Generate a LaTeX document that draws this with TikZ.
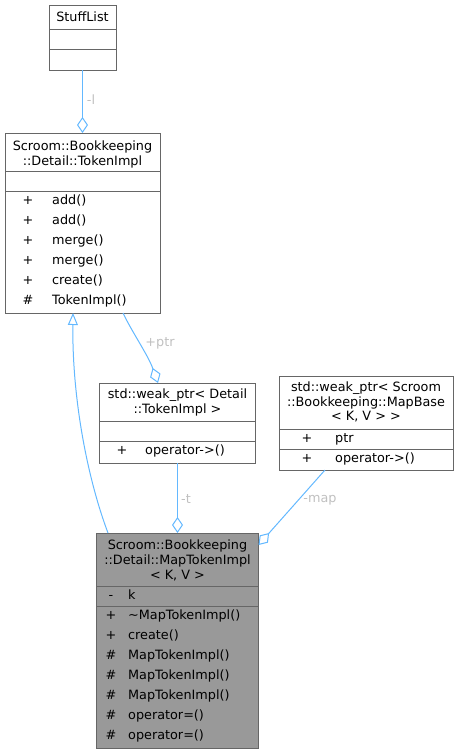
\documentclass[tikz,border=0pt]{standalone}
\usepackage{fontspec}
\setmainfont{DejaVu Sans}
\usetikzlibrary{arrows.meta,calc}
\definecolor{edgeblue}{HTML}{63B8FF}
\definecolor{boxline}{HTML}{666666}
\definecolor{boxfill}{HTML}{999999}
\definecolor{lblgray}{HTML}{C0C0C0}
\begin{document}
\begin{tikzpicture}[x=1pt,y=-1pt,
  font=\fontsize{12.8}{15}\selectfont,
  box/.style={draw=boxline, line width=1pt, fill=white, anchor=north west, inner sep=0pt, outer sep=0pt},
  sep/.style={draw=boxline, line width=1pt},
  txt/.style={inner sep=0pt, anchor=base},
  mem/.style={inner sep=0pt, anchor=base west},
  vis/.style={inner sep=0pt, anchor=base},
  agg/.style={draw=edgeblue, line width=1pt, -{Diamond[open, length=16pt, width=11pt, line width=1pt]}},
  inh/.style={draw=edgeblue, line width=1pt, -{Triangle[open, length=12pt, width=10pt, line width=1pt]}},
  lbl/.style={text=lblgray, inner sep=0pt, anchor=center}]
\useasboundingbox (0,0) rectangle (459,753);

% StuffList
\node[box, minimum width=67pt, minimum height=65pt] (stuff) at (49,5) {};
\draw[sep] (49,29) -- (116,29);
\draw[sep] (49,49) -- (116,49);
\node[txt] (stuffT) at (82.5,21) {StuffList};

% TokenImpl
\node[box, minimum width=155pt, minimum height=180pt] (ti) at (5,133) {};
\draw[sep] (5,171.5) -- (160,171.5);
\draw[sep] (5,191.5) -- (160,191.5);
\node[txt] (tiT1) at (82.5,150) {Scroom::Bookkeeping};
\node[txt] (tiT2) at (82.5,165) {::Detail::TokenImpl};
\foreach \i/\v/\m in {0/+/add(),1/+/add(),2/+/merge(),3/+/merge(),4/+/create(),5/\#/TokenImpl()}{
  \node[vis] (tiv\i) at (28,204+20*\i) {\v};
  \node[mem] (tim\i) at (52,204+20*\i) {\m};
}

% weak_ptr Detail
\node[box, minimum width=156pt, minimum height=80pt] (wd) at (99.5,383) {};
\draw[sep] (99.5,421) -- (255.5,421);
\draw[sep] (99.5,441) -- (255.5,441);
\node[txt] (wdT1) at (177.5,398) {std::weak\_ptr< Detail};
\node[txt] (wdT2) at (177.5,413) {::TokenImpl >};
\node[vis] (wdv0) at (122,454) {+};
\node[mem] (wdm0) at (145,454) {operator->()};

% weak_ptr MapBase
\node[box, minimum width=174pt, minimum height=94pt] (mb) at (279,376) {};
\draw[sep] (279,429) -- (453,429);
\draw[sep] (279,449) -- (453,449);
\node[txt] (mbT1) at (366,391.5) {std::weak\_ptr< Scroom};
\node[txt] (mbT2) at (366,406) {::Bookkeeping::MapBase};
\node[txt] (mbT3) at (366,420.5) {< K, V > >};
\node[vis] (mbv0) at (307,442) {+};
\node[mem] (mbm0) at (335,442) {ptr};
\node[vis] (mbv1) at (307,462) {+};
\node[mem] (mbm1) at (335,462) {operator->()};

% MapTokenImpl
\node[box, fill=boxfill, minimum width=162pt, minimum height=215pt] (mti) at (96.5,533) {};
\draw[sep] (96.5,586) -- (258.5,586);
\draw[sep] (96.5,606) -- (258.5,606);
\node[txt] (mtiT1) at (177.5,549) {Scroom::Bookkeeping};
\node[txt] (mtiT2) at (177.5,564) {::Detail::MapTokenImpl};
\node[txt] (mtiT3) at (177.5,579) {< K, V >};
\node[vis] (mtiav) at (111,599) {-};
\node[mem] (mtiam) at (128,599) {k};
\foreach \i/\v/\m in {0/+/\textasciitilde MapTokenImpl(),1/+/create(),2/\#/MapTokenImpl(),3/\#/MapTokenImpl(),4/\#/MapTokenImpl(),5/\#/operator=(),6/\#/operator=()}{
  \node[vis] (mtiv\i) at (111,619+20*\i) {\v};
  \node[mem] (mtim\i) at (128,619+20*\i) {\m};
}

% edges
\draw[agg] (stuff.south) -- (ti.north);
\node[lbl] (lblL) at (91,100) {-l};

\draw[inh] ([xshift=11.5pt]mti.north west) .. controls (88,480) and (72,400) .. ([xshift=68pt]ti.south west);

\draw[agg] ([xshift=118pt]ti.south west) .. controls (132,332) and (148,355) .. ([xshift=58.5pt]wd.north west);
\node[lbl] (lblP) at (160,343) {+ptr};

\draw[agg] (wd.south) -- (mti.north);
\node[lbl] (lblT) at (186,499) {-t};

\draw[agg] ([xshift=46pt]mb.south west) -- ([yshift=-12pt]mti.north east);
\node[lbl] (lblM) at (320,500) {-map};
\end{tikzpicture}
\end{document}
